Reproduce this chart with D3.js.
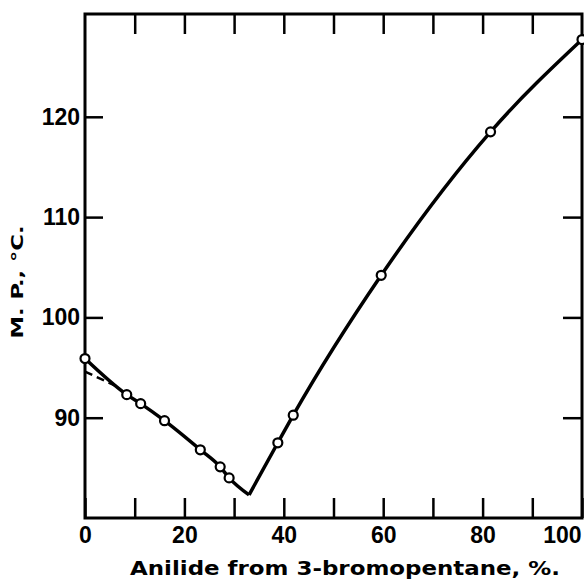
<!DOCTYPE html>
<html>
<head>
<meta charset="utf-8">
<script src="https://cdn.jsdelivr.net/npm/d3@7"></script>
<style>
  body { margin: 0; background: #fff; }
  svg { display: block; }
  .tick text { font-family: "Liberation Sans", Arial, sans-serif; font-weight: bold; fill: #000; }
</style>
</head>
<body>
<div class="chart"></div>
<script>
// measured points: anilide from 3-bromopentane (%) vs melting point (C)
var pctMeasured = [0, 8.4, 11.2, 16.0, 23.2, 27.2, 29.0, 38.8, 41.9, 59.6, 81.6, 100];
var mpMeasured  = [95.9, 92.3, 91.4, 89.7, 86.8, 85.1, 84.0, 87.5, 90.25, 104.2, 118.5, 127.7];

// drawn curve, two branches meeting at the eutectic
var leftPct  = [0, 8.4, 11.2, 16.0, 23.2, 27.2, 29.0, 33.0];
var leftMp   = [95.9, 92.3, 91.4, 89.7, 86.8, 85.1, 84.0, 82.3];
var rightPct = [33.0, 38.8, 41.9, 59.6, 81.6, 100];
var rightMp  = [82.3, 87.5, 90.25, 104.2, 118.5, 127.7];

// dashed extrapolation near 0 %
var dashPct = [0, 6.5];
var dashMp  = [94.6, 93.1];

var xTicks = [0, 10, 20, 30, 40, 50, 60, 70, 80, 90, 100];
var yTicks = [90, 100, 110, 120];

function zip(a, b) {
  return a.map(function(d, i) { return [d, b[i]]; });
}

function init() {
  var W = 584, H = 581,
      margin = {left: 85, top: 14, right: 2, bottom: 63},
      width = W - margin.left - margin.right,
      height = H - margin.top - margin.bottom;

  var svg = d3.select('.chart')
    .append('svg')
      .attr('width', W)
      .attr('height', H);

  var g = svg.append('g')
      .attr('transform', 'translate(' + margin.left + ',' + margin.top + ')');

  var x = d3.scaleLinear().domain([0, 100]).range([0, width]);
  var y = d3.scaleLinear().domain([80, 130.25]).range([height, 0]);

  function fmtX(d) { return d % 20 === 0 ? d : ''; }

  // bottom axis (ticks inward)
  var bx = g.append('g')
      .attr('transform', 'translate(0,' + height + ')')
      .call(d3.axisBottom(x).tickValues(xTicks).tickSizeInner(-20).tickSizeOuter(0).tickPadding(9).tickFormat(fmtX));
  bx.selectAll('text').style('font-size', '23px');
  bx.selectAll('.tick text').filter(function(d) { return d === 100; })
      .attr('text-anchor', 'end').attr('dx', '-1px');

  // top axis
  g.append('g')
      .call(d3.axisTop(x).tickValues(xTicks.slice(1, -1)).tickSizeInner(-20).tickSizeOuter(0).tickFormat(''));

  // left axis
  var ly = g.append('g')
      .call(d3.axisLeft(y).tickValues(yTicks).tickSizeInner(-18).tickSizeOuter(0).tickPadding(5));
  ly.selectAll('text').style('font-size', '23px');

  // right axis
  g.append('g')
      .attr('transform', 'translate(' + width + ',0)')
      .call(d3.axisRight(y).tickValues(yTicks).tickSizeInner(-19).tickSizeOuter(0).tickFormat(''));

  g.selectAll('.domain').remove();
  g.selectAll('.tick line').attr('stroke', '#000').attr('stroke-width', 2.5);

  // frame
  g.append('rect')
      .attr('x', 0).attr('y', 0)
      .attr('width', width).attr('height', height)
      .attr('fill', 'none').attr('stroke', '#000').attr('stroke-width', 3);

  var line = d3.line()
      .x(function(d) { return x(d[0]); })
      .y(function(d) { return y(d[1]); });

  g.append('path')
      .datum(zip(dashPct, dashMp))
      .attr('d', line.curve(d3.curveLinear))
      .attr('fill', 'none').attr('stroke', '#000').attr('stroke-width', 2.5)
      .attr('stroke-dasharray', '8,5');

  g.append('path')
      .datum(zip(leftPct, leftMp))
      .attr('d', line.curve(d3.curveMonotoneX))
      .attr('fill', 'none').attr('stroke', '#000').attr('stroke-width', 3.5)
      .attr('stroke-linejoin', 'round');

  g.append('path')
      .datum(zip(rightPct, rightMp))
      .attr('d', line.curve(d3.curveMonotoneX))
      .attr('fill', 'none').attr('stroke', '#000').attr('stroke-width', 3.5)
      .attr('stroke-linejoin', 'round');

  g.selectAll('circle.pt')
    .data(zip(pctMeasured, mpMeasured))
    .enter().append('circle')
      .attr('class', 'pt')
      .attr('cx', function(d) { return x(d[0]); })
      .attr('cy', function(d) { return y(d[1]); })
      .attr('r', 4.5)
      .attr('fill', '#fff').attr('stroke', '#000').attr('stroke-width', 2.2);

  // axis titles
  svg.append('text')
      .attr('x', 345).attr('y', 575)
      .attr('text-anchor', 'middle')
      .attr('textLength', 430).attr('lengthAdjust', 'spacingAndGlyphs')
      .style('font-family', '"DejaVu Sans", sans-serif')
      .style('font-weight', 'bold')
      .style('font-size', '20px')
      .text('Anilide from 3-bromopentane, %.');

  svg.append('text')
      .attr('transform', 'translate(23,282) rotate(-90)')
      .attr('text-anchor', 'middle')
      .attr('textLength', 113).attr('lengthAdjust', 'spacingAndGlyphs')
      .style('font-family', '"DejaVu Sans", sans-serif')
      .style('font-weight', 'bold')
      .style('font-size', '15px')
      .text('M. P., \u00b0C.');
}

d3.select(window).on('load', init);
</script>
</body>
</html>
